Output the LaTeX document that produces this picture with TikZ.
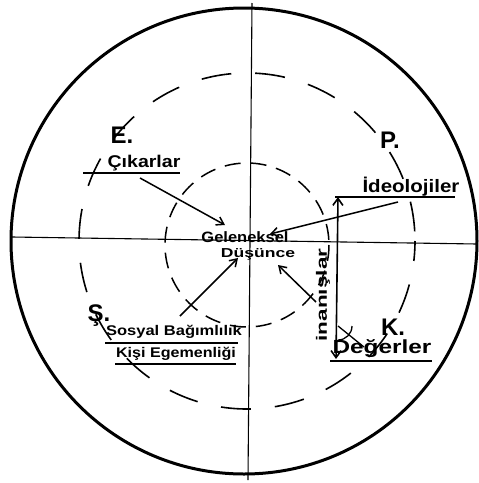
\documentclass[tikz,border=0pt]{standalone}
\usepackage{fontspec}
\setmainfont{Liberation Sans}
\usetikzlibrary{arrows.meta}
\newcommand{\fs}[2]{\fontsize{#1}{#2}\selectfont}
\begin{document}
\begin{tikzpicture}[x=1pt,y=-1pt,
  lbl/.style={inner sep=0pt,font=\bfseries},
  big/.style={inner sep=0pt,font=\fontsize{24}{26}\selectfont\bfseries},
  ul/.style={line width=1.6pt},
  arr/.style={line width=1.5pt,-{Straight Barb[length=7pt,width=9pt]}},
  dashA/.style={line width=1.6pt,dash pattern=on 30pt off 24pt},
  dashB/.style={line width=1.5pt,dash pattern=on 16pt off 10pt}]
\useasboundingbox (0,0) rectangle (479,483);
% circles and axes
\draw[line width=3pt] (244,241) circle[radius=233];
\draw[line width=1.1pt] (12,237) -- (477,244);
\draw[line width=1.1pt] (252,3) -- (248,480);
\draw[dashA,dash phase=10pt] (247,241) circle[radius=168];
\draw[dashB] (247,245) circle[radius=82];
% center
\node[lbl] (gel) at (245,237) {\fs{15}{16}\scalebox{1.1}[1]{Geleneksel}};
\node[lbl] (dus) at (258,254) {\fs{13}{14}\scalebox{1.35}[1]{Düşünce}};
% E
\node[big] (E) at (122,135) {E.};
\node[lbl] (cik) at (144,163) {\fs{17}{18}\scalebox{1.15}[1]{Çıkarlar}};
\draw[ul] (83,173) -- (180,173);
\coordinate (cikS) at (140,178);
\coordinate (gelNW) at (225,225);
\draw[arr] (cikS) -- (gelNW);
% P
\node[big] (P) at (390,140) {P.};
\node[lbl] (ide) at (411,187) {\fs{18}{19}\scalebox{1.14}[1]{İdeolojiler}};
\draw[ul] (335,197) -- (455,197);
\coordinate (ideS) at (398,202);
\coordinate (gelE) at (270,234);
\draw[arr] (ideS) -- (gelE);
% inanislar vertical
\coordinate (vTop) at (338,197);
\coordinate (vBot) at (336,359);
\draw[line width=1.6pt,{Straight Barb[length=7pt,width=10pt]}-{Straight Barb[length=7pt,width=10pt]}] (vTop) -- (vBot);
\node[lbl,rotate=90] (ina) at (323,295) {\fs{15}{16}\scalebox{1.5}[1]{inanışlar}};
\coordinate (inaS) at (316,302);
\coordinate (dusSE) at (278,265);
\draw[arr] (inaS) -- (dusSE);
% K
\node[big] (K) at (393,327) {K.};
\node[lbl] (deg) at (382,349) {\fs{19}{20}\scalebox{1.28}[1]{Değerler}};
\draw[ul] (330,361) -- (432,361);
\coordinate (mA) at (338,326);
\coordinate (mB) at (364,347);
\draw[line width=1.3pt] (mA) -- (mB);
\draw[line width=1.3pt] (338,340) arc[start angle=90,end angle=0,radius=14];
% S
\node[big] (S) at (99,316) {Ş.};
\node[lbl] (sos) at (174,332) {\fs{14}{15}\scalebox{1.18}[1]{Sosyal Bağımlılık}};
\draw[ul] (105,343) -- (238,343);
\node[lbl] (kis) at (176,354) {\fs{14}{15}\scalebox{1.15}[1]{Kişi Egemenliği}};
\draw[ul] (115,364) -- (236,364);
\coordinate (sosN) at (180,316);
\coordinate (dusSW) at (238,258);
\draw[arr] (sosN) -- (dusSW);
\end{tikzpicture}
\end{document}
